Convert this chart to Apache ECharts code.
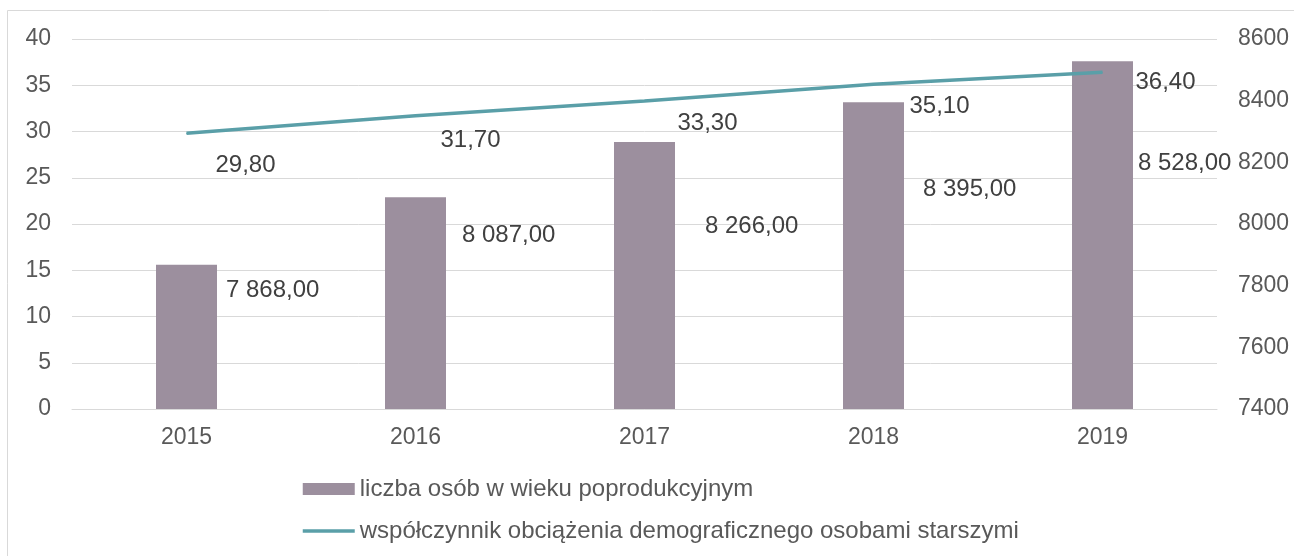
<!DOCTYPE html>
<html>
<head>
<meta charset="utf-8">
<script src="https://cdn.jsdelivr.net/npm/echarts@6/dist/echarts.min.js"></script>
<style>
  html, body { margin: 0; padding: 0; background: #fff; }
  #chart { width: 1294px; height: 556px; }
</style>
</head>
<body>
<div id="chart"></div>
<script>
// dane wykresu
const years = ['2015', '2016', '2017', '2018', '2019']
const seniors = [7868, 8087, 8266, 8395, 8528] // liczba osób w wieku poprodukcyjnym (prawa oś)
const ratio = [29.8, 31.7, 33.3, 35.1, 36.4] // współczynnik obciążenia (lewa oś)
const barName = 'liczba osób w wieku poprodukcyjnym'
const lineName = 'współczynnik obciążenia demograficznego osobami starszymi'

// przesunięcia etykiet (ręcznie ustawione jak w oryginale)
const barLabelShift = [[9, 26], [16, 38], [30, 84], [19, 87], [5, 102]]
const lineLabelShift = [[59, 32], [55, 25], [63, 22], [66, 22], [63, 10]]

// formatowanie liczb po polsku: spacja tysięcy, przecinek dziesiętny
const plNum = v => {
  let parts = Number(v).toFixed(2).split('.')
  parts[0] = parts[0].replace(/\B(?=(\d{3})+(?!\d))/g, ' ')
  return parts.join(',')
}

const font = 'Liberation Sans, Arial, sans-serif'
const lineColor = '#5a9fa8'
const chart = echarts.init(document.getElementById('chart'))

chart.setOption({
  animation: false,
  textStyle: { fontFamily: font },
  graphic: [{
    type: 'rect',
    shape: { x: 7.5, y: 10.5, width: 1400, height: 700 },
    style: { fill: 'none', stroke: '#d9d9d9', lineWidth: 1 },
    silent: true
  }],
  grid: { left: 72, right: 77, top: 39, bottom: 147 },
  legend: {
    orient: 'vertical',
    left: 296,
    top: 472,
    itemWidth: 52,
    itemHeight: 12,
    itemGap: 18,
    textStyle: { color: '#595959', fontSize: 24, lineHeight: 24, fontFamily: font },
    data: [
      { name: barName, icon: 'rect' },
      { name: lineName, itemStyle: { opacity: 0 }, lineStyle: { color: lineColor, width: 3.5 } }
    ]
  },
  xAxis: {
    type: 'category',
    data: years,
    axisLine: { lineStyle: { color: '#d9d9d9' } },
    axisTick: { show: false },
    axisLabel: { color: '#595959', fontSize: 23, margin: 17 }
  },
  yAxis: [
    {
      type: 'value',
      min: 0,
      max: 40,
      interval: 5,
      axisLine: { show: false },
      axisTick: { show: false },
      axisLabel: { color: '#595959', fontSize: 23, margin: 21 },
      splitLine: { lineStyle: { color: '#d9d9d9', width: 1 } }
    },
    {
      type: 'value',
      min: 7400,
      max: 8600,
      interval: 200,
      axisLine: { show: false },
      axisTick: { show: false },
      axisLabel: { color: '#595959', fontSize: 23, margin: 21, formatter: v => String(v) },
      splitLine: { show: false }
    }
  ],
  series: [
    {
      name: barName,
      type: 'bar',
      yAxisIndex: 1,
      barWidth: 61,
      itemStyle: { color: '#9c8f9e' },
      label: {
        show: true,
        position: ['100%', '0%'],
        align: 'left',
        verticalAlign: 'middle',
        color: '#404040',
        fontSize: 24,
        formatter: p => plNum(p.value)
      },
      data: seniors.map((v, i) => ({ value: v, label: { offset: barLabelShift[i] } }))
    },
    {
      name: lineName,
      type: 'line',
      yAxisIndex: 0,
      z: 3,
      symbol: 'circle',
      symbolSize: 1,
      itemStyle: { color: lineColor },
      lineStyle: { color: lineColor, width: 3.5 },
      label: {
        show: true,
        position: 'inside',
        align: 'center',
        verticalAlign: 'middle',
        color: '#404040',
        fontSize: 24,
        formatter: p => plNum(p.value)
      },
      data: ratio.map((v, i) => ({ value: v, label: { offset: lineLabelShift[i] } }))
    }
  ]
})
</script>
</body>
</html>
